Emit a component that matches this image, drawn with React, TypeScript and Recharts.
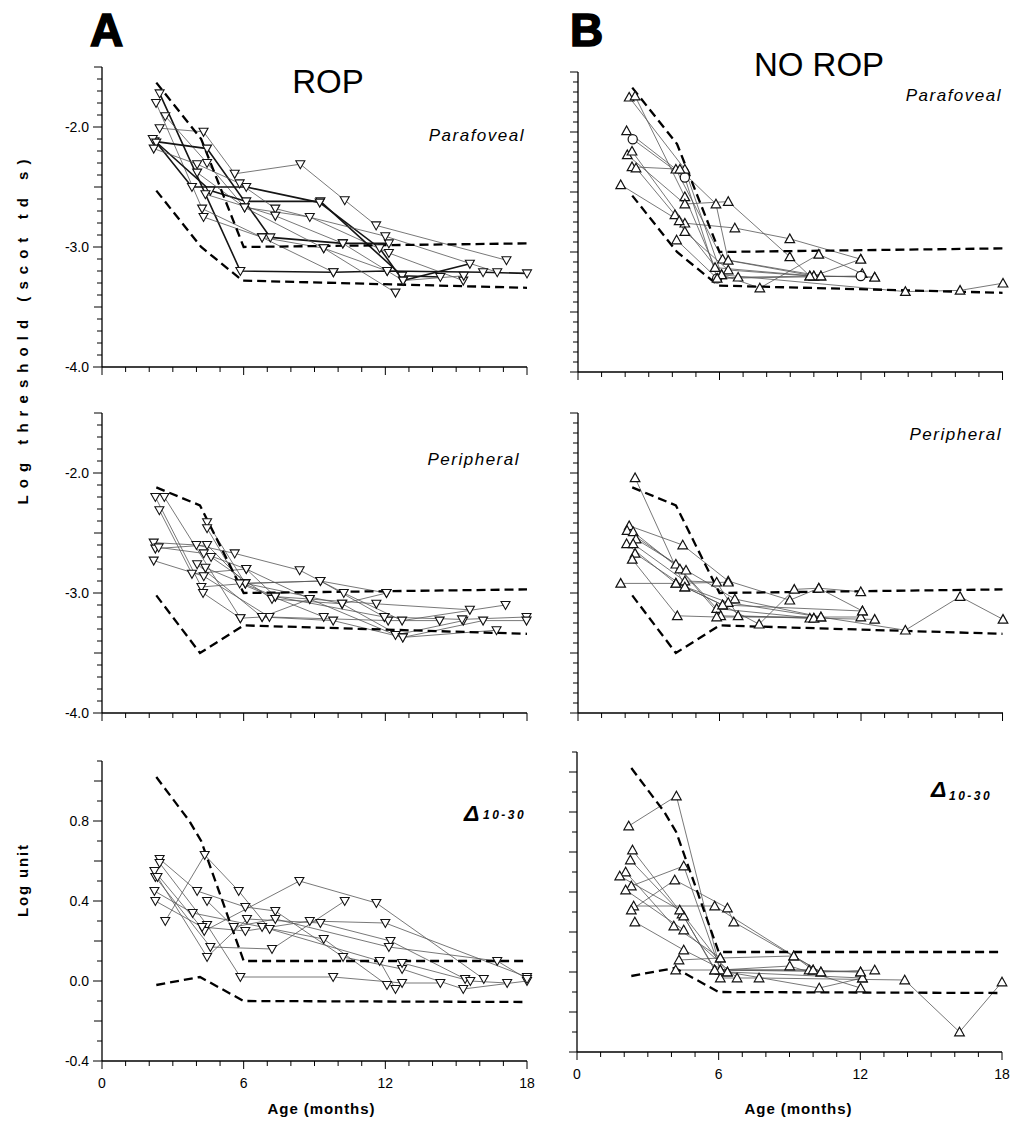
import React from "react";
import { ScatterChart, Scatter, XAxis, YAxis } from "recharts";

type Pt = [number, number];

// age axis (months)
const AGE_LABELS = [0, 6, 12, 18];
// log threshold axis labels
const THRESH_LABELS = [-4, -3, -2];
// log unit axis labels
const DELTA_LABELS = [-0.4, 0, 0.4, 0.8];

// normal limits (dashed)
const paraUpper: Pt[] = [[2.3, -1.63], [4.2, -2.1], [6.0, -3.0], [18, -2.97]];
const paraLower: Pt[] = [[2.3, -2.53], [4.2, -3.0], [5.95, -3.28], [18, -3.34]];
const periUpper: Pt[] = [[2.3, -2.12], [4.15, -2.27], [6.0, -3.0], [18, -2.97]];
const periLower: Pt[] = [[2.3, -3.02], [4.15, -3.5], [6.0, -3.27], [18, -3.34]];
const deltaUpper: Pt[] = [[2.3, 1.02], [3.7, 0.8], [4.2, 0.7], [6.0, 0.1], [18, 0.1]];
const deltaLower: Pt[] = [[2.3, -0.02], [4.15, 0.02], [6.0, -0.1], [18, -0.105]];

// ROP, parafoveal threshold, one list per infant
const ropPara: Pt[][] = [
  [[2.44, -1.72], [5.86, -3.2], [9.8, -3.21], [12.08, -3.2], [16.14, -3.21], [18, -3.22]],
  [[2.29, -1.8], [4.24, -2.68], [6.78, -2.92], [9.39, -3.01], [12.43, -3.38]],
  [[2.68, -1.91], [4.45, -2.3], [6.04, -2.67], [8.8, -2.75], [12.15, -3.05], [15.3, -3.28]],
  [[2.44, -2.01], [4.3, -2.04], [5.62, -2.39], [8.4, -2.31], [10.28, -2.61], [11.61, -2.82], [17.13, -3.11]],
  [[2.22, -2.12], [4.45, -2.18], [7.13, -2.92], [10.2, -2.97], [12.15, -2.97]],
  [[2.15, -2.1], [4.59, -2.53], [6.11, -2.62], [9.25, -2.62], [12.71, -3.24], [14.33, -3.25]],
  [[2.3, -2.13], [3.81, -2.5], [6.11, -2.5], [9.22, -2.63], [11.76, -3.01], [12.75, -3.28], [15.58, -3.14]],
  [[2.19, -2.18], [4.03, -2.31], [5.83, -2.47], [7.34, -2.68], [12.0, -2.91], [16.74, -3.21]],
  [[4.03, -2.38], [6.04, -2.67], [9.39, -3.01], [12.08, -3.2]],
  [[4.38, -2.56], [7.34, -2.74], [10.2, -2.97], [12.75, -3.28], [15.32, -3.24]],
  [[4.3, -2.75], [6.78, -2.92], [9.8, -3.21]],
];
const ropParaBold = [0, 4, 5, 6];

// no ROP, parafoveal threshold
const noRopPara: Pt[][] = [
  [[2.17, -1.71], [4.53, -2.31], [6.09, -3.19], [7.71, -3.3], [10.21, -3.02], [12.05, -3.18]],
  [[2.42, -1.7], [4.53, -2.54], [5.81, -3.13], [10.0, -3.2], [11.99, -3.06]],
  [[2.06, -1.99], [4.15, -2.31], [6.13, -3.06], [10.3, -3.2], [12.58, -3.21]],
  [[2.32, -2.06], [4.53, -2.38], [5.9, -3.22], [11.99, -3.2]],
  [[2.09, -2.19], [4.53, -2.6], [6.37, -2.58], [8.98, -3.04], [9.83, -3.2]],
  [[2.29, -2.16], [4.53, -2.76], [6.65, -2.8], [8.98, -2.89], [11.99, -3.06]],
  [[2.29, -2.29], [4.32, -2.31], [5.85, -2.6], [6.37, -3.07], [10.0, -3.2]],
  [[2.46, -2.3], [4.11, -2.69], [4.53, -2.83], [6.37, -3.15], [9.83, -3.2], [12.58, -3.21]],
  [[1.81, -2.44], [4.29, -2.74], [6.09, -3.19], [13.88, -3.33], [16.2, -3.32], [18.02, -3.26]],
  [[4.18, -2.9], [5.9, -3.22], [6.79, -3.21], [10.3, -3.2]],
];
const noRopParaCircles = [3];

// ROP, peripheral threshold
const ropPeri: Pt[][] = [
  [[2.26, -2.2], [4.21, -2.95], [6.07, -2.92], [9.25, -2.9], [12.05, -3.0]],
  [[2.64, -2.2], [5.86, -3.21], [6.78, -3.2], [9.79, -3.23], [12.74, -3.37], [16.71, -3.31]],
  [[2.43, -2.31], [3.81, -2.84], [6.11, -2.8], [8.8, -3.05], [12.43, -3.35], [15.3, -3.23]],
  [[2.19, -2.58], [4.0, -2.6], [5.62, -2.67], [8.37, -2.81], [10.24, -3.0], [12.71, -3.23], [17.09, -3.1]],
  [[2.26, -2.63], [4.45, -2.6], [6.07, -2.92], [9.25, -2.9], [11.96, -3.2], [15.25, -3.22], [17.98, -3.2]],
  [[2.4, -2.62], [4.31, -2.67], [6.11, -2.8], [7.34, -3.03], [11.62, -3.09], [15.58, -3.14]],
  [[2.19, -2.73], [4.31, -2.86], [7.09, -3.2], [12.12, -3.23], [14.3, -3.23]],
  [[4.45, -2.41], [6.07, -2.92], [10.17, -3.09], [12.74, -3.37], [16.14, -3.23], [17.98, -3.23]],
  [[4.45, -2.46], [5.83, -2.92], [9.39, -3.2]],
  [[4.62, -2.7], [7.2, -3.05], [10.17, -3.09], [12.05, -3.0]],
  [[4.03, -2.76], [6.78, -3.2], [8.8, -3.05]],
  [[4.38, -2.79], [7.34, -3.03], [11.96, -3.2]],
  [[4.28, -3.0], [5.86, -3.21]],
];

// no ROP, peripheral threshold
const noRopPeri: Pt[][] = [
  [[2.42, -2.04], [4.53, -2.95], [6.13, -3.1], [7.68, -3.26], [9.17, -2.97], [10.21, -2.96], [11.99, -2.99]],
  [[2.17, -2.44], [4.44, -2.6], [6.37, -2.9], [8.98, -3.06], [10.21, -2.96], [12.06, -3.15]],
  [[2.08, -2.48], [4.15, -2.76], [5.88, -3.13], [10.0, -3.21], [12.58, -3.22]],
  [[2.34, -2.49], [4.32, -2.8], [6.05, -3.19], [9.83, -3.21]],
  [[2.46, -2.55], [4.58, -2.81], [6.65, -3.05], [10.3, -3.2], [11.99, -3.2]],
  [[2.06, -2.59], [4.15, -2.92], [6.37, -3.08], [13.88, -3.31], [16.2, -3.03], [18.02, -3.22]],
  [[2.34, -2.59], [4.53, -2.9], [5.88, -2.91], [6.79, -3.19], [10.0, -3.21]],
  [[2.42, -2.67], [4.53, -2.95], [6.13, -3.1], [12.06, -3.15]],
  [[2.3, -2.72], [4.21, -3.19], [5.88, -3.2], [10.3, -3.2]],
  [[1.81, -2.92], [4.15, -2.92], [6.37, -2.91]],
];

// ROP, delta 10-30
const ropDelta: Pt[][] = [
  [[2.44, 0.61], [4.03, 0.45], [6.07, 0.37], [7.34, 0.35], [10.21, 0.12], [12.71, 0.06], [15.3, -0.04], [18, 0.0]],
  [[2.44, 0.59], [4.45, 0.28], [5.86, 0.02], [9.79, 0.02], [12.71, -0.01], [14.33, -0.01]],
  [[2.22, 0.55], [4.33, 0.25], [8.36, 0.5], [11.62, 0.39], [16.17, 0.01]],
  [[2.26, 0.52], [4.59, 0.17], [7.2, 0.16], [10.28, 0.4]],
  [[2.35, 0.52], [4.45, 0.12], [6.14, 0.31], [9.25, 0.29], [12.22, 0.2], [15.38, 0.01]],
  [[2.22, 0.45], [3.84, 0.34], [6.78, 0.27], [9.39, 0.21], [12.07, -0.02]],
  [[2.26, 0.4], [4.24, 0.27], [6.07, 0.25], [8.8, 0.3], [12.0, 0.29], [18, 0.02]],
  [[2.68, 0.3], [4.35, 0.63], [5.79, 0.45], [7.1, 0.26], [11.76, 0.1], [12.43, -0.04]],
  [[4.45, 0.4], [5.58, 0.27], [7.34, 0.31], [12.15, 0.17], [16.74, 0.1], [18, 0.01]],
  [[12.71, 0.09], [15.6, 0.0], [17.16, -0.01]],
];

// no ROP, delta 10-30
const noRopDelta: Pt[][] = [
  [[2.19, 0.73], [4.21, 0.88], [6.07, 0.01], [10.0, 0.01]],
  [[2.35, 0.61], [4.45, 0.29], [6.07, -0.03], [7.71, -0.03], [13.88, -0.04], [16.2, -0.3], [18, -0.05]],
  [[2.26, 0.56], [4.52, 0.28], [5.83, 0.01], [9.83, 0.01], [12.01, 0.0]],
  [[2.06, 0.5], [4.1, 0.23], [6.07, 0.07], [9.18, 0.08], [10.33, 0.0], [12.61, 0.01]],
  [[1.81, 0.48], [4.35, 0.31], [6.37, 0.0], [10.26, -0.08], [12.09, -0.03]],
  [[2.3, 0.43], [4.52, 0.53], [6.07, 0.01], [9.01, 0.03], [12.01, -0.08]],
  [[2.06, 0.41], [4.52, 0.21], [6.78, -0.03]],
  [[2.4, 0.33], [5.83, 0.33], [9.18, 0.08], [10.0, 0.01]],
  [[2.3, 0.31], [4.14, 0.46], [6.37, 0.32], [6.64, 0.25], [10.33, 0.0]],
  [[2.45, 0.25], [4.52, 0.11], [6.37, 0.0], [12.09, -0.03]],
  [[4.18, 0.01], [5.83, 0.01], [12.01, 0.0]],
  [[4.32, 0.06], [6.07, 0.07]],
];

const FONT = "'Liberation Sans', Arial, Helvetica, sans-serif";
const AXIS_W = 60;
const PAD_T = 10;
const PAD_R = 8;
const PLOT_W = 425;
const PLOT_H = 300;
const XAXIS_H = 45;

const AGE_TICKS = Array.from({ length: 19 }, (_, k) => k);

const toXY = (pts: Pt[]) => pts.map(([x, y]) => ({ x, y }));
const blank = () => <g />;

const downTri = (p: any) => (
  <polygon
    points={`${p.cx - 4.5},${p.cy - 3.5} ${p.cx + 4.5},${p.cy - 3.5} ${p.cx},${p.cy + 4.5}`}
    fill="#fff"
    stroke="#111"
    strokeWidth={1.1}
  />
);
const upTri = (p: any) => (
  <polygon
    points={`${p.cx - 4.8},${p.cy + 3.8} ${p.cx + 4.8},${p.cy + 3.8} ${p.cx},${p.cy - 4.8}`}
    fill="#fff"
    stroke="#111"
    strokeWidth={1.2}
  />
);
const ring = (p: any) => <circle cx={p.cx} cy={p.cy} r={4.6} fill="#fff" stroke="#111" strokeWidth={1.2} />;

type PanelProps = {
  left: number;
  top: number;
  domain: [number, number];
  step: number;
  every: number;
  labels?: number[];
  ageLabels?: boolean;
  traces: Pt[][];
  bold?: number[];
  circles?: number[];
  up?: boolean;
  limits: Pt[][];
};

function Panel(p: PanelProps) {
  const [lo, hi] = p.domain;
  const n = Math.round((hi - lo) / p.step);
  const yTicks = Array.from({ length: n + 1 }, (_, k) => +(lo + k * p.step).toFixed(6));

  const yTick = (t: any) => {
    const v = t.payload.value;
    const k = Math.round((v - lo) / p.step);
    const lab = p.labels ? p.labels.find((l) => Math.abs(l - v) < 1e-6) : undefined;
    const len = lab !== undefined ? 9 : k % p.every === 0 ? 8 : 5;
    return (
      <g>
        <line x1={t.x - len} x2={t.x} y1={t.y} y2={t.y} stroke="#000" strokeWidth={1} />
        {lab !== undefined && (
          <text x={t.x - 13} y={t.y + 5} textAnchor="end" fontSize={14} fontFamily={FONT} fill="#000">
            {lab.toFixed(1)}
          </text>
        )}
      </g>
    );
  };

  const xTick = (t: any) => {
    const v = t.payload.value;
    const major = AGE_LABELS.includes(v);
    return (
      <g>
        <line x1={t.x} x2={t.x} y1={t.y} y2={t.y + (major ? 8 : 5)} stroke="#000" strokeWidth={1} />
        {p.ageLabels && major && (
          <text x={t.x} y={t.y + 27} textAnchor="middle" fontSize={14} fontFamily={FONT} fill="#000">
            {v}
          </text>
        )}
      </g>
    );
  };

  const marker = p.up ? upTri : downTri;
  const bold = p.bold ?? [];
  const circles = p.circles ?? [];

  return (
    <div style={{ position: "absolute", left: p.left - AXIS_W, top: p.top - PAD_T }}>
      <ScatterChart
        width={AXIS_W + PLOT_W + PAD_R}
        height={PAD_T + PLOT_H + XAXIS_H}
        margin={{ top: PAD_T, right: PAD_R, left: 0, bottom: 0 }}
      >
        <XAxis
          type="number"
          dataKey="x"
          domain={[0, 18]}
          ticks={AGE_TICKS}
          interval={0}
          tickSize={0}
          tickMargin={0}
          tickLine={false}
          height={XAXIS_H}
          axisLine={{ stroke: "#000", strokeWidth: 1.3 }}
          tick={xTick}
        />
        <YAxis
          type="number"
          dataKey="y"
          domain={p.domain}
          ticks={yTicks}
          interval={0}
          tickSize={0}
          tickMargin={0}
          tickLine={false}
          width={AXIS_W}
          axisLine={{ stroke: "#000", strokeWidth: 1.3 }}
          tick={yTick}
        />
        {p.traces.map((t, i) => (
          <Scatter
            key={`l${i}`}
            data={toXY(t)}
            line={
              bold.includes(i)
                ? { stroke: "#151515", strokeWidth: 1.6 }
                : { stroke: "#555", strokeWidth: 0.8 }
            }
            shape={blank}
            isAnimationActive={false}
          />
        ))}
        {p.limits.map((t, i) => (
          <Scatter
            key={`d${i}`}
            data={toXY(t)}
            line={{ stroke: "#000", strokeWidth: 2.3, strokeDasharray: "9 5" }}
            shape={blank}
            isAnimationActive={false}
          />
        ))}
        {p.traces.map((t, i) => (
          <Scatter
            key={`m${i}`}
            data={toXY(t)}
            shape={circles.includes(i) ? ring : marker}
            isAnimationActive={false}
          />
        ))}
      </ScatterChart>
    </div>
  );
}

export default function App() {
  const thr: [number, number] = [-4, -1.5];
  const dlt: [number, number] = [-0.4, 1.1];
  return (
    <div style={{ position: "absolute", left: 0, top: 0, width: 1015, height: 1127, background: "#fff" }}>
      <Panel left={101.7} top={66.7} domain={thr} step={0.1} every={5} labels={THRESH_LABELS}
        traces={ropPara} bold={ropParaBold} limits={[paraUpper, paraLower]} />
      <Panel left={578} top={71.7} domain={thr} step={1 / 12} every={6}
        traces={noRopPara} circles={noRopParaCircles} up limits={[paraUpper, paraLower]} />
      <Panel left={101.7} top={412.7} domain={thr} step={0.1} every={5} labels={THRESH_LABELS}
        traces={ropPeri} limits={[periUpper, periLower]} />
      <Panel left={578} top={412.7} domain={thr} step={1 / 12} every={6}
        traces={noRopPeri} up limits={[periUpper, periLower]} />
      <Panel left={101.7} top={760.7} domain={dlt} step={0.1} every={2} labels={DELTA_LABELS} ageLabels
        traces={ropDelta} limits={[deltaUpper, deltaLower]} />
      <Panel left={577.3} top={751.7} domain={dlt} step={0.1} every={2} ageLabels
        traces={noRopDelta} up limits={[deltaUpper, deltaLower]} />

      <svg width={1015} height={1127} style={{ position: "absolute", left: 0, top: 0, pointerEvents: "none" }}>
        <g fontFamily={FONT} fill="#000">
          <text x={90} y={46} fontSize={46} fontWeight="bold" stroke="#000" strokeWidth={1.6}>A</text>
          <text x={570} y={46} fontSize={46} fontWeight="bold" stroke="#000" strokeWidth={1.6}>B</text>

          <text x={328} y={93} fontSize={33} textAnchor="middle">ROP</text>
          <text x={819} y={76} fontSize={33} textAnchor="middle">NO ROP</text>

          <text x={525} y={141} fontSize={17} fontStyle="italic" letterSpacing={1.5} textAnchor="end">Parafoveal</text>
          <text x={1002} y={101} fontSize={17} fontStyle="italic" letterSpacing={1.5} textAnchor="end">Parafoveal</text>
          <text x={520} y={465} fontSize={17} fontStyle="italic" letterSpacing={1.5} textAnchor="end">Peripheral</text>
          <text x={1002} y={440} fontSize={17} fontStyle="italic" letterSpacing={1.5} textAnchor="end">Peripheral</text>

          <text x={464} y={821} fontSize={23} fontStyle="italic" fontWeight="bold">Δ</text>
          <text x={483} y={819} fontSize={12} fontStyle="italic" fontWeight="bold" letterSpacing={2.5}>10-30</text>
          <text x={931} y={797} fontSize={23} fontStyle="italic" fontWeight="bold">Δ</text>
          <text x={949} y={800} fontSize={12} fontStyle="italic" fontWeight="bold" letterSpacing={2.5}>10-30</text>

          <text transform="translate(28,332) rotate(-90)" fontSize={15} fontWeight="bold" textAnchor="middle"
            textLength={345} lengthAdjust="spacing">Log threshold (scot td s)</text>
          <text transform="translate(28,881) rotate(-90)" fontSize={15} fontWeight="bold" textAnchor="middle"
            textLength={72} lengthAdjust="spacing">Log unit</text>

          <text x={321} y={1114} fontSize={15} fontWeight="bold" textAnchor="middle"
            textLength={107} lengthAdjust="spacing">Age (months)</text>
          <text x={798} y={1114} fontSize={15} fontWeight="bold" textAnchor="middle"
            textLength={107} lengthAdjust="spacing">Age (months)</text>
        </g>
      </svg>
    </div>
  );
}
